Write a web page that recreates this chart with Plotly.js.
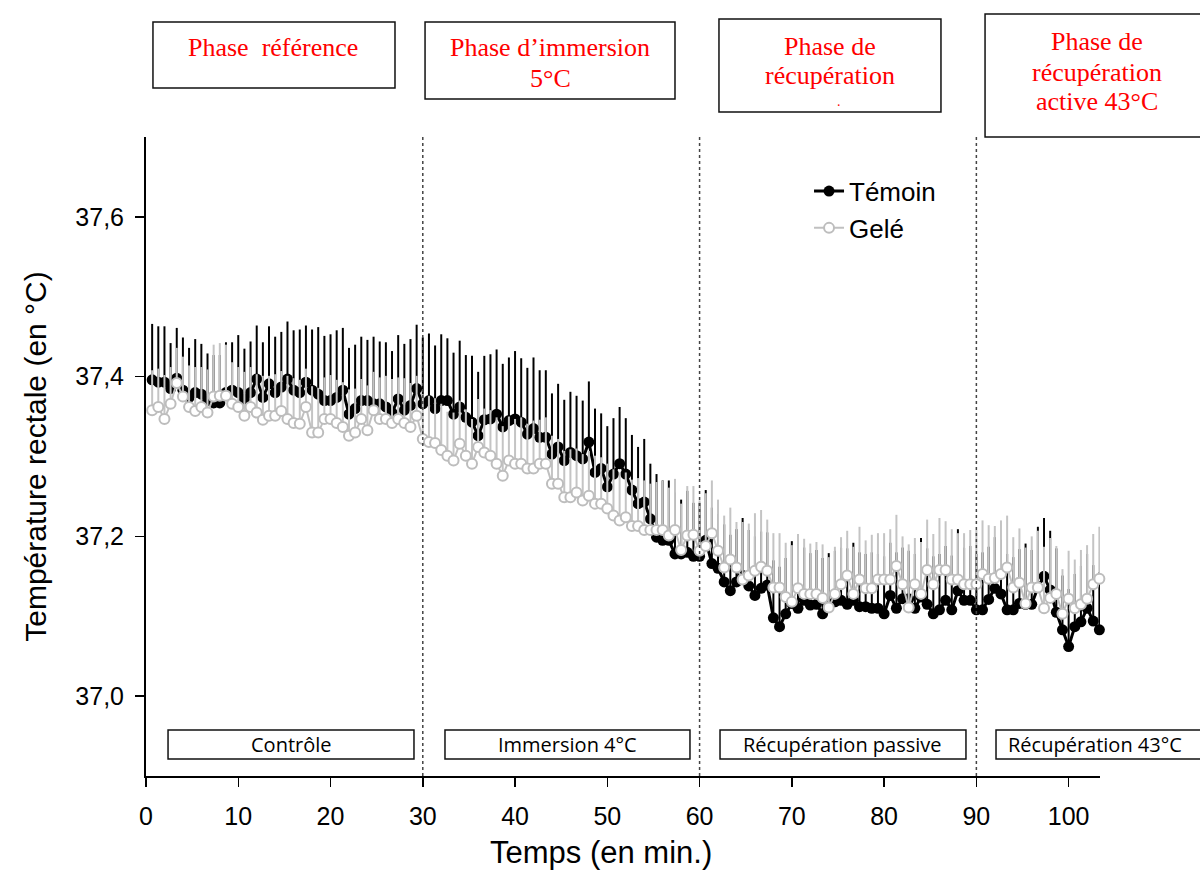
<!DOCTYPE html>
<html>
<head>
<meta charset="utf-8">
<script src="https://cdn.plot.ly/plotly-3.0.1.min.js"></script>
<style>html,body{margin:0;padding:0;background:#fff;}#chart{width:1200px;height:873px;}</style>
</head>
<body>
<div id="chart"></div>
<script>
// Sampling times (seconds), one point every 40 s
const tempsSec = [
  40,80,120,160,200,240,280,320,360,400,440,480,520,560,600,
  640,680,720,760,800,840,880,920,960,1000,1040,1080,1120,1160,1200,
  1240,1280,1320,1360,1400,1440,1480,1520,1560,1600,1640,1680,1720,1760,1800,
  1840,1880,1920,1960,2000,2040,2080,2120,2160,2200,2240,2280,2320,2360,2400,
  2440,2480,2520,2560,2600,2640,2680,2720,2760,2800,2840,2880,2920,2960,3000,
  3040,3080,3120,3160,3200,3240,3280,3320,3360,3400,3440,3480,3520,3560,3600,
  3640,3680,3720,3760,3800,3840,3880,3920,3960,4000,4040,4080,4120,4160,4200,
  4240,4280,4320,4360,4400,4440,4480,4520,4560,4600,4640,4680,4720,4760,4800,
  4840,4880,4920,4960,5000,5040,5080,5120,5160,5200,5240,5280,5320,5360,5400,
  5440,5480,5520,5560,5600,5640,5680,5720,5760,5800,5840,5880,5920,5960,6000,
  6040,6080,6120,6160,6200
];

// Rectal temperature (°C), control group
const temoin = [
  37.396,37.393,37.393,37.385,37.398,37.383,37.374,37.380,37.378,37.370,
  37.367,37.367,37.380,37.383,37.380,37.372,37.380,37.397,37.374,37.391,
  37.380,37.387,37.397,37.383,37.380,37.393,37.383,37.378,37.370,37.370,
  37.374,37.383,37.353,37.360,37.370,37.370,37.366,37.366,37.362,37.355,
  37.372,37.358,37.364,37.385,37.366,37.370,
  37.360,37.370,37.370,37.353,37.362,37.349,37.343,37.326,37.346,37.347,
  37.353,37.337,37.345,37.347,37.343,37.328,37.335,37.324,37.324,37.303,
  37.312,37.295,37.305,37.301,37.297,37.318,37.280,37.285,37.262,37.278,
  37.291,37.278,37.258,37.241,37.243,37.222,37.199,37.195,37.195,37.178,
  37.178,37.180,37.175,37.175,37.195,
  37.166,37.160,37.143,37.132,37.143,37.151,37.138,37.126,37.135,
  37.139,37.098,37.087,37.103,37.116,37.110,37.120,37.114,37.115,37.103,
  37.112,37.118,37.120,37.115,37.120,37.112,37.112,37.110,37.110,37.103,
  37.126,37.110,37.122,37.122,37.110,37.124,37.115,37.103,37.108,37.120,
  37.108,37.132,37.120,
  37.120,37.108,37.108,37.121,37.135,37.128,37.108,37.108,37.116,37.115,
  37.115,37.136,37.150,37.133,37.105,37.083,37.062,37.087,37.093,37.110,
  37.094,37.083
];
// Upper error (°C), control group
const temoinErr = [
  0.070,0.070,0.070,0.057,0.063,0.066,0.062,0.067,0.063,0.059,
  0.060,0.060,0.063,0.060,0.072,0.063,0.064,0.067,0.069,0.072,
  0.070,0.069,0.072,0.075,0.079,0.071,0.076,0.084,0.081,0.083,
  0.084,0.078,0.083,0.080,0.080,0.076,0.084,0.078,0.081,0.077,
  0.080,0.083,0.083,0.080,0.083,0.084,
  0.079,0.083,0.078,0.077,0.083,0.078,0.083,0.080,0.080,0.081,
  0.081,0.079,0.079,0.085,0.080,0.083,0.089,0.084,0.084,0.076,
  0.079,0.076,0.076,0.075,0.073,0.076,0.080,0.069,0.076,0.070,
  0.071,0.070,0.069,0.071,0.079,0.069,0.079,0.075,0.075,0.077,
  0.068,0.077,0.067,0.067,0.063,
  0.070,0.068,0.072,0.070,0.066,0.072,0.070,0.074,0.071,
  0.066,0.072,0.075,0.070,0.078,0.068,0.066,0.065,0.068,0.070,
  0.067,0.064,0.066,0.070,0.072,0.068,0.066,0.070,0.068,0.072,
  0.066,0.070,0.064,0.060,0.068,0.074,0.070,0.072,0.070,0.068,
  0.068,0.077,0.066,
  0.068,0.070,0.072,0.066,0.064,0.068,0.070,0.066,0.068,0.076,
  0.068,0.076,0.073,0.074,0.080,0.068,0.072,0.066,0.070,0.068,
  0.070,0.072
];

// Rectal temperature (°C), frozen group
const gele = [
  37.358,37.362,37.347,37.366,37.392,37.375,37.362,37.357,37.362,37.355,
  37.375,37.376,37.376,37.366,37.362,37.351,37.362,37.355,37.346,37.351,
  37.351,37.357,37.347,37.342,37.341,37.362,37.330,37.330,37.347,37.347,
  37.342,37.337,37.326,37.330,37.347,37.333,37.358,37.347,37.347,37.342,
  37.347,37.342,37.337,37.351,37.322,37.318,
  37.317,37.308,37.301,37.295,37.316,37.301,37.291,37.312,37.305,37.301,
  37.291,37.276,37.295,37.291,37.291,37.285,37.285,37.291,37.291,37.266,
  37.266,37.249,37.249,37.255,37.245,37.251,37.241,37.241,37.235,37.226,
  37.220,37.224,37.213,37.213,37.208,37.208,37.208,37.208,37.201,37.208,
  37.183,37.201,37.202,37.182,37.188,
  37.204,37.182,37.161,37.171,37.161,37.146,37.151,37.157,37.162,
  37.157,37.136,37.136,37.124,37.118,37.135,37.128,37.128,37.128,37.123,
  37.111,37.128,37.140,37.151,37.128,37.146,37.135,37.135,37.146,37.146,
  37.146,37.163,37.140,37.111,37.140,37.128,37.158,37.140,37.158,37.158,
  37.146,37.146,37.140,
  37.140,37.140,37.153,37.147,37.148,37.153,37.161,37.136,37.142,37.116,
  37.136,37.136,37.110,37.123,37.128,37.103,37.122,37.110,37.115,37.122,
  37.140,37.147
];
// Upper error (°C), frozen group
const geleErr = [
  0.050,0.048,0.055,0.046,0.044,0.050,0.052,0.055,0.050,0.054,
  0.065,0.066,0.064,0.052,0.050,0.055,0.050,0.048,0.055,0.050,
  0.052,0.050,0.054,0.056,0.055,0.048,0.058,0.056,0.052,0.055,
  0.054,0.056,0.058,0.055,0.050,0.056,0.048,0.052,0.054,0.055,
  0.052,0.056,0.055,0.050,0.056,0.058,
  0.056,0.058,0.055,0.060,0.054,0.058,0.056,0.060,0.055,0.057,
  0.058,0.062,0.055,0.056,0.058,0.056,0.060,0.055,0.058,0.060,
  0.056,0.058,0.060,0.055,0.058,0.056,0.060,0.058,0.056,0.058,
  0.060,0.056,0.058,0.060,0.062,0.058,0.060,0.062,0.060,0.064,
  0.058,0.062,0.061,0.063,0.066,
  0.066,0.064,0.065,0.065,0.057,0.072,0.065,0.072,0.071,
  0.064,0.068,0.068,0.068,0.071,0.068,0.069,0.063,0.065,0.067,
  0.063,0.059,0.059,0.056,0.059,0.066,0.060,0.067,0.058,0.058,
  0.063,0.064,0.060,0.079,0.058,0.065,0.063,0.063,0.065,0.061,
  0.063,0.058,0.064,
  0.068,0.068,0.067,0.067,0.065,0.067,0.065,0.063,0.068,0.070,
  0.064,0.071,0.077,0.075,0.060,0.056,0.060,0.061,0.068,0.067,
  0.063,0.065
];

const seriesNames = ['Témoin', 'Gelé'];
const xTicks = [0, 10, 20, 30, 40, 50, 60, 70, 80, 90, 100];
const yTicks = [37.0, 37.2, 37.4, 37.6];
const yTickText = ['37,0', '37,2', '37,4', '37,6'];
const phaseBoundaries = [30, 60, 90];
const phaseTitleLines = [
  ['Phase  référence'],
  ['Phase d’immersion', '5°C'],
  ['Phase de', 'récupération', '.'],
  ['Phase de', 'récupération', 'active 43°C']
];
const conditionLabels = ['Contrôle', 'Immersion 4°C', 'Récupération passive', 'Récupération 43°C'];

const tempsMin = tempsSec.map(s => s / 60);
const zeros = arr => arr.map(() => 0);

const traces = [
  {
    x: tempsMin, y: temoin, name: seriesNames[0], type: 'scatter', mode: 'lines+markers',
    line: {color: '#000000', width: 3},
    marker: {color: '#000000', size: 11, line: {width: 0}},
    error_y: {type: 'data', symmetric: false, array: temoinErr, arrayminus: zeros(temoinErr),
              color: '#000000', thickness: 2, width: 0},
    cliponaxis: false
  },
  {
    x: tempsMin, y: gele, name: seriesNames[1], type: 'scatter', mode: 'lines+markers',
    line: {color: '#c0c0c0', width: 2},
    marker: {color: '#ffffff', size: 10, line: {color: '#bdbdbd', width: 2}},
    error_y: {type: 'data', symmetric: false, array: geleErr, arrayminus: zeros(geleErr),
              color: '#c4c4c4', thickness: 2, width: 0},
    cliponaxis: false
  }
];

// layout geometry (paper coordinates)
const topBoxes = [[0.0073, 0.2610, 1.0767, 1.1800], [0.2925, 0.5545, 1.0595, 1.1800],
                  [0.6006, 0.8333, 1.0391, 1.1847], [0.8795, 1.1070, 1.0000, 1.1925]];
// [x, y, yanchor, size] for each line
const topLinePos = [
  [[0.1331, 1.1393, 'middle', 26]],
  [[0.4235, 1.1393, 'middle', 26], [0.4235, 1.0923, 'middle', 26]],
  [[0.7170, 1.1424, 'middle', 26], [0.7170, 1.0970, 'middle', 26], [0.7264, 1.0705, 'top', 14]],
  [[0.9969, 1.1487, 'middle', 26], [0.9969, 1.1017, 'middle', 26], [0.9969, 1.0548, 'middle', 26]]
];
const botBoxes = [[0.0231, 0.2809], [0.3134, 0.5702], [0.6017, 0.8595], [0.8910, 1.1070]];
const botTextX = [0.152, 0.4413, 0.7306, 0.9948];

const shapes = [];
phaseBoundaries.forEach(b => shapes.push({type: 'line', xref: 'x', yref: 'paper', x0: b, x1: b, y0: 0, y1: 1,
  line: {color: '#444444', width: 1.5, dash: 'dot'}}));
topBoxes.forEach(bx => shapes.push({type: 'rect', xref: 'paper', yref: 'paper', x0: bx[0], x1: bx[1], y0: bx[2], y1: bx[3],
  line: {color: '#111111', width: 1.5}, fillcolor: 'rgba(0,0,0,0)'}));
botBoxes.forEach(bx => shapes.push({type: 'rect', xref: 'paper', yref: 'paper', x0: bx[0], x1: bx[1], y0: 0.0266, y1: 0.0720,
  line: {color: '#111111', width: 1.5}, fillcolor: '#ffffff'}));

const annotations = [];
phaseTitleLines.forEach((lines, i) => lines.forEach((t, j) => annotations.push({
  text: t, xref: 'paper', yref: 'paper', x: topLinePos[i][j][0], y: topLinePos[i][j][1],
  xanchor: 'center', yanchor: topLinePos[i][j][2], showarrow: false,
  font: {family: 'Liberation Serif, Times New Roman, serif', size: topLinePos[i][j][3], color: '#ff0000'}})));
conditionLabels.forEach((t, i) => annotations.push({text: t, xref: 'paper', yref: 'paper', x: botTextX[i], y: 0.0493,
  xanchor: 'center', yanchor: 'middle', showarrow: false,
  font: {family: 'Open Sans, sans-serif', size: 20, color: '#000000'}}));
annotations.push({text: 'Temps (en min.)', xref: 'paper', yref: 'paper', x: 0.477, y: -0.1190,
  xanchor: 'center', yanchor: 'middle', showarrow: false,
  font: {family: 'Liberation Sans, Arial, sans-serif', size: 31, color: '#000000'}});

const layout = {
  width: 1200, height: 873,
  margin: {l: 146, r: 100, t: 137, b: 97},
  paper_bgcolor: '#ffffff', plot_bgcolor: '#ffffff',
  font: {family: 'Liberation Sans, Arial, sans-serif', size: 24, color: '#000000'},
  showlegend: true,
  legend: {x: 0.695, y: 0.952, xanchor: 'left', yanchor: 'top', bgcolor: 'rgba(0,0,0,0)',
           font: {family: 'Liberation Sans, Arial, sans-serif', size: 26, color: '#000000'}},
  xaxis: {range: [0, 103.4], showline: true, linecolor: '#000000', linewidth: 2, showgrid: false, zeroline: false,
          ticks: 'outside', ticklen: 9, tickwidth: 1.5, tickcolor: '#000000', tickvals: xTicks,
          ticklabelstandoff: 8, tickfont: {size: 25}},
  yaxis: {range: [36.9, 37.7], showline: true, linecolor: '#000000', linewidth: 2, showgrid: false, zeroline: false,
          ticks: 'outside', ticklen: 9, tickwidth: 1.5, tickcolor: '#000000', tickvals: yTicks, ticktext: yTickText,
          ticklabelstandoff: 6, tickfont: {size: 25},
          title: {text: 'Température rectale (en °C)', standoff: 20, font: {size: 30}}},
  shapes: shapes,
  annotations: annotations
};

Plotly.newPlot('chart', traces, layout, {displayModeBar: false, staticPlot: true});
</script>
</body>
</html>
